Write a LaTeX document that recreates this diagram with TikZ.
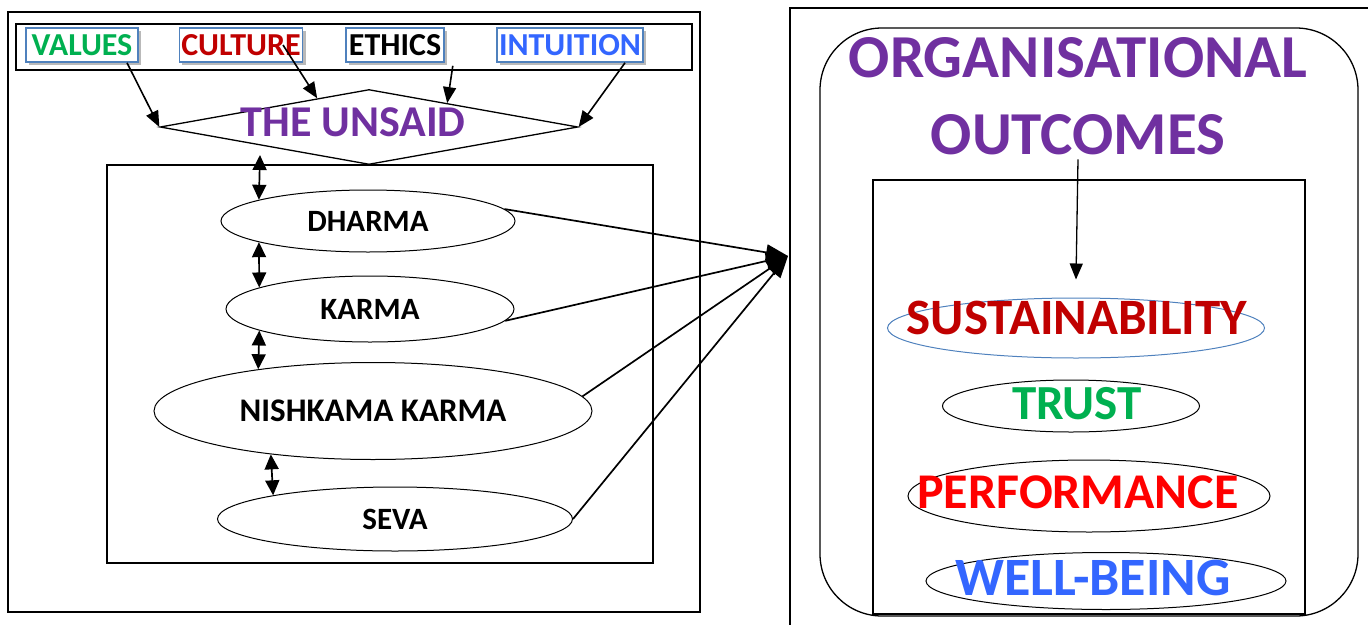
\documentclass[tikz,border=0pt]{standalone}
\usepackage{fontspec}
\setmainfont{Carlito}
\usetikzlibrary{shapes.geometric,arrows.meta,shadows}

\definecolor{unsaidpurple}{RGB}{112,48,160}
\definecolor{valgreen}{RGB}{0,176,80}
\definecolor{culred}{RGB}{192,0,0}
\definecolor{intblue}{RGB}{51,102,255}
\definecolor{boxblue}{RGB}{79,129,189}
\definecolor{perfred}{RGB}{255,0,0}

\begin{document}
\begin{tikzpicture}[
    x=1pt, y=1pt,
    >={Triangle[length=16pt,width=13pt]},
    tagbox/.style={draw=boxblue, line width=1.6pt, fill=white, inner sep=2pt,
      minimum height=34pt, font=\fontsize{32}{32}\selectfont\bfseries,
      drop shadow={shadow xshift=3pt, shadow yshift=-3pt, fill=gray!55, opacity=1}},
    pillar/.style={ellipse, draw, line width=1pt, inner sep=0pt,
      font=\fontsize{31}{31}\selectfont\bfseries},
    outcome/.style={ellipse, draw, line width=1pt, inner sep=0pt},
    outtext/.style={inner sep=0pt, font=\fontsize{51}{51}\selectfont\bfseries},
    title/.style={text=unsaidpurple, inner sep=0pt, font=\fontsize{61}{61}\selectfont\bfseries},
    frame/.style={line width=1.3pt},
    link/.style={->, line width=1.6pt},
    hublink/.style={-{Triangle[length=22pt,width=16pt]}, line width=1.7pt},
    dbl/.style={{Triangle[length=15pt,width=14pt]}-{Triangle[length=15pt,width=14pt]}, line width=1.7pt},
]
\useasboundingbox (0,0) rectangle (1368,-624);

% frames
\draw[frame] (8,-12) rectangle (700,-612);
\draw[frame] (16,-24) rectangle (692,-70);
\draw[frame] (107,-165) rectangle (653,-563);
\draw[frame] (790,-8) rectangle (1374,-630);
\draw[frame, rounded corners=62pt] (820,-28) rectangle (1358,-616);
\draw[frame] (873,-180) rectangle (1305,-614);

% inputs
\node[tagbox, minimum width=112pt, text=valgreen] (values) at (82,-45) {VALUES};
\node[tagbox, minimum width=118pt, text=culred] (culture) at (241,-45) {CULTURE};
\node[tagbox, minimum width=98pt] (ethics) at (395,-45) {ETHICS};
\node[tagbox, minimum width=144pt, text=intblue] (intuition) at (570,-45) {INTUITION};

% the unsaid
\node[diamond, draw, line width=1.3pt, inner sep=0pt, minimum width=418pt,
  minimum height=75pt] (unsaid) at (369,-127) {};
\node[text=unsaidpurple, font=\fontsize{44}{44}\selectfont\bfseries] (unsaidtxt) at (353,-122) {THE UNSAID};

\draw[link] ([xshift=45pt]values.south) -- (unsaid.west);
\draw[link] ([xshift=42pt]culture.center) -- (unsaid.151);
\draw[link] ([xshift=8pt,yshift=-3pt]ethics.south east) -- (unsaid.17);
\draw[link] ([xshift=55pt]intuition.south) -- (unsaid.east);

% pillars
\node[pillar, minimum width=294pt, minimum height=62pt] (dharma) at (368,-221) {DHARMA};
\node[pillar, minimum width=288pt, minimum height=66pt] (karma) at (370,-309) {KARMA};
\node[pillar, minimum width=438pt, minimum height=97pt,
  font=\fontsize{33}{33}\selectfont\bfseries] (nishkama) at (373,-411) {NISHKAMA KARMA};
\node[pillar, minimum width=355pt, minimum height=64pt] (seva) at (395,-519) {SEVA};

\coordinate (gapA) at (260,-155);
\draw[dbl] (gapA) -- (dharma.169);
\draw[dbl] (dharma.191) -- (karma.169);
\draw[dbl] (karma.191) -- (nishkama.160);
\draw[dbl] (nishkama.203) -- (seva.169);

% towards the outcomes
\coordinate (hub) at (788,-256);
\draw[hublink] (dharma.5) -- (hub);
\draw[hublink] (karma.-5) -- (hub);
\draw[hublink] (nishkama.4) -- (hub);
\draw[hublink] (seva.east) -- (hub);

% outcomes
\node[title] (orgtxt) at (1078,-58) {ORGANISATIONAL};
\node[title] (outcomes) at (1078,-135) {OUTCOMES};

\node[outcome, draw=boxblue, minimum width=377pt, minimum height=60pt] (sust) at (1076,-328) {};
\node[outcome, minimum width=257pt, minimum height=52pt] (trust) at (1071,-406) {};
\node[outcome, minimum width=362pt, minimum height=72pt] (perf) at (1089,-496) {};
\node[outcome, minimum width=360pt, minimum height=57pt] (well) at (1106,-581) {};
\node[outtext, text=culred] (susttxt) at (1077,-318) {SUSTAINABILITY};
\node[outtext, text=valgreen, font=\fontsize{49}{49}\selectfont\bfseries] (trusttxt) at (1077,-404) {TRUST};
\node[outtext, text=perfred, font=\fontsize{50}{50}\selectfont\bfseries] (perftxt) at (1078,-492) {PERFORMANCE};
\node[outtext, text=intblue, font=\fontsize{54}{54}\selectfont\bfseries] (welltxt) at (1093,-578) {WELL-BEING};

\draw[link, line width=1.3pt] ([yshift=-4pt]outcomes.south) -- ([yshift=18pt]sust.north);

\end{tikzpicture}
\end{document}
